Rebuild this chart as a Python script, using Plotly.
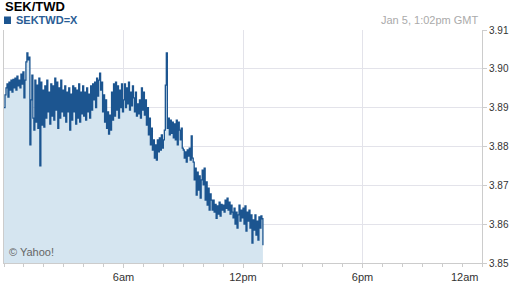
import pandas as pd
import plotly.graph_objects as go

title_text = "SEK/TWD"
symbol = "SEKTWD=X"
stamp = "Jan 5, 1:02pm GMT"
start_time = "2015-01-05 00:00"
step = "3min"

rate = [
    3.8900, 3.8933, 3.8951, 3.8961, 3.8927, 3.8966, 3.8945, 3.8971, 3.8940, 3.8973,
    3.8951, 3.8976, 3.8945, 3.8981, 3.8956, 3.8971, 3.8951, 3.8986, 3.8961, 3.8992,
    3.8925, 3.8971, 3.9018, 3.9041, 3.9023, 3.9030, 3.8804, 3.8920, 3.8984, 3.8873,
    3.8842, 3.8971, 3.8863, 3.8958, 3.8847, 3.8976, 3.8750, 3.8966, 3.8855, 3.8945,
    3.8850, 3.8956, 3.8873, 3.8971, 3.8889, 3.8940, 3.8858, 3.8961, 3.8878, 3.8956,
    3.8868, 3.8976, 3.8894, 3.8966, 3.8847, 3.8951, 3.8873, 3.8971, 3.8889, 3.8945,
    3.8878, 3.8956, 3.8863, 3.8940, 3.8889, 3.8951, 3.8842, 3.8935, 3.8868, 3.8956,
    3.8889, 3.8951, 3.8858, 3.8945, 3.8873, 3.8961, 3.8863, 3.8940, 3.8884, 3.8956,
    3.8878, 3.8940, 3.8868, 3.8951, 3.8889, 3.8935, 3.8873, 3.8956, 3.8894, 3.8961,
    3.8920, 3.8966, 3.8900, 3.8976, 3.8930, 3.8971, 3.8989, 3.8945, 3.8966, 3.8889,
    3.8933, 3.8863, 3.8920, 3.8847, 3.8889, 3.8832, 3.8881, 3.8842, 3.8940, 3.8868,
    3.8961, 3.8878, 3.8966, 3.8894, 3.8956, 3.8873, 3.8945, 3.8900, 3.8961, 3.8889,
    3.8920, 3.8961, 3.8900, 3.8951, 3.8910, 3.8966, 3.8894, 3.8940, 3.8905, 3.8956,
    3.8925, 3.8889, 3.8940, 3.8878, 3.8910, 3.8884, 3.8920, 3.8873, 3.8951, 3.8894,
    3.8940, 3.8881, 3.8920, 3.8855, 3.8900, 3.8830, 3.8873, 3.8804, 3.8847, 3.8791,
    3.8817, 3.8770, 3.8804, 3.8765, 3.8817, 3.8786, 3.8822, 3.8791, 3.8830, 3.8796,
    3.8817, 3.8842, 3.8958, 3.9041, 3.8847, 3.8873, 3.8830, 3.8868, 3.8834, 3.8863,
    3.8822, 3.8858, 3.8817, 3.8868, 3.8804, 3.8863, 3.8842, 3.8817, 3.8847, 3.8796,
    3.8791, 3.8770, 3.8786, 3.8760, 3.8791, 3.8775, 3.8796, 3.8765, 3.8827, 3.8770,
    3.8760, 3.8714, 3.8744, 3.8675, 3.8734, 3.8688, 3.8724, 3.8667, 3.8714, 3.8739,
    3.8701, 3.8744, 3.8662, 3.8709, 3.8649, 3.8693, 3.8636, 3.8678, 3.8662, 3.8636,
    3.8662, 3.8631, 3.8651, 3.8615, 3.8647, 3.8626, 3.8657, 3.8621, 3.8651, 3.8636,
    3.8649, 3.8631, 3.8662, 3.8641, 3.8667, 3.8636, 3.8657, 3.8626, 3.8649, 3.8631,
    3.8616, 3.8641, 3.8600, 3.8631, 3.8590, 3.8624, 3.8649, 3.8608, 3.8636, 3.8616,
    3.8641, 3.8600, 3.8647, 3.8582, 3.8631, 3.8608, 3.8636, 3.8590, 3.8624, 3.8551,
    3.8611, 3.8585, 3.8624, 3.8572, 3.8608, 3.8559, 3.8619, 3.8590, 3.8621, 3.8614,
    3.8546,
]

x_tick_vals = ["2015-01-05 06:00", "2015-01-05 12:00", "2015-01-05 18:00"]
x_tick_text = ["6am", "12pm", "6pm"]
x_end_label = "12am"
x_range = ["2015-01-05 00:00", "2015-01-06 00:00"]
y_tick_vals = [3.85, 3.86, 3.87, 3.88, 3.89, 3.90, 3.91]
y_tick_text = ["3.85", "3.86", "3.87", "3.88", "3.89", "3.90", "3.91"]
y_range = [3.85, 3.91]

times = pd.date_range(start_time, periods=len(rate), freq=step)

FONT = "Liberation Sans, Arial, sans-serif"
LINE = "#1c5590"
FILL = "#d5e5f0"
GRID = "#e3e3ea"
AXIS = "#cccccc"

fig = go.Figure()
fig.add_trace(go.Scatter(
    x=times, y=rate, mode="lines",
    line=dict(shape="hv", color=LINE, width=1.3),
    fill="tozeroy", fillcolor=FILL, hoverinfo="skip",
))

fig.update_layout(
    width=512, height=288,
    margin=dict(l=3, r=29, t=30, b=25),
    paper_bgcolor="white", plot_bgcolor="white",
    showlegend=False,
    font=dict(family=FONT, size=10, color="#333333"),
)

fig.update_xaxes(
    type="date", range=x_range,
    tickmode="array", tickvals=x_tick_vals, ticktext=x_tick_text,
    showgrid=True, gridcolor=GRID, gridwidth=1,
    showline=True, linecolor=AXIS, linewidth=1,
    ticks="outside", ticklen=4, tickcolor=AXIS,
    tickfont=dict(family=FONT, size=11, color="#333333"),
    minor=dict(tickmode="linear", tick0="2015-01-05 00:00", dtick=3600000,
               ticks="outside", ticklen=3, tickcolor=AXIS, showgrid=False),
    zeroline=False, fixedrange=True,
)
fig.update_yaxes(
    side="right", range=y_range,
    tickmode="array", tickvals=y_tick_vals, ticktext=y_tick_text,
    showgrid=True, gridcolor=GRID, gridwidth=1,
    showline=True, linecolor=AXIS, linewidth=1, mirror=True,
    ticks="outside", ticklen=4, tickcolor=AXIS,
    tickfont=dict(family=FONT, size=10, color="#333333"),
    zeroline=False, fixedrange=True,
)

px_w = 480.0
px_h = 233.0

def px(xp):
    return (xp - 3) / px_w

def py(yp):
    return (263 - yp) / px_h

fig.add_annotation(text="<b>" + title_text + "</b>", xref="paper", yref="paper",
                   x=px(2), y=py(6.5), xanchor="left", yanchor="middle",
                   showarrow=False, font=dict(family=FONT, size=13, color="#000000"))
fig.add_shape(type="rect", xref="paper", yref="paper",
              x0=px(3), x1=px(10), y0=py(24), y1=py(16.5),
              line=dict(width=0), fillcolor=LINE)
fig.add_annotation(text="<b>" + symbol + "</b>", xref="paper", yref="paper",
                   x=px(13), y=py(20.5), xanchor="left", yanchor="middle",
                   showarrow=False, font=dict(family=FONT, size=11, color="#2a5d95"))
fig.add_annotation(text=stamp, xref="paper", yref="paper",
                   x=px(481), y=py(20), xanchor="right", yanchor="middle",
                   showarrow=False, font=dict(family=FONT, size=11, color="#aaaaaa"))
fig.add_annotation(text="© Yahoo!", xref="paper", yref="paper",
                   x=px(6), y=py(252), xanchor="left", yanchor="middle",
                   showarrow=False, font=dict(family=FONT, size=11, color="#666666"))
fig.add_annotation(text=x_end_label, xref="paper", yref="paper",
                   x=px(482), y=py(277), xanchor="right", yanchor="middle",
                   showarrow=False, font=dict(family=FONT, size=11, color="#333333"))

fig.write_html("out.html")
